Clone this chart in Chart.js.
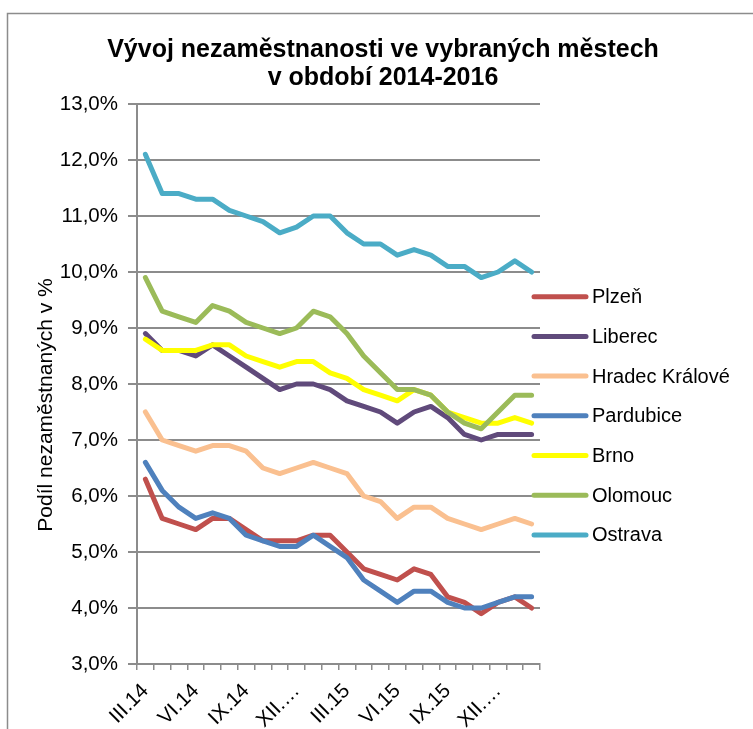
<!DOCTYPE html>
<html>
<head>
<meta charset="utf-8">
<script src="https://cdn.jsdelivr.net/npm/chart.js@4.4.1/dist/chart.umd.min.js"></script>
<style>
    html, body { margin: 0; padding: 0; background: #fff; }
    #wrap { position: relative; width: 753px; height: 729px; }
</style>
</head>
<body>
<div id="wrap"><canvas id="nez_chart" width="753" height="729"></canvas></div>
<script>
var months = ['III.14', 'IV.14', 'V.14', 'VI.14', 'VII.14', 'VIII.14', 'IX.14', 'X.14', 'XI.14', 'XII.14',
    'I.15', 'II.15', 'III.15', 'IV.15', 'V.15', 'VI.15', 'VII.15', 'VIII.15', 'IX.15', 'X.15', 'XI.15', 'XII.15',
    'I.16', 'II.16'];

var plzen     = [6.3, 5.6, 5.5, 5.4, 5.6, 5.6, 5.4, 5.2, 5.2, 5.2, 5.3, 5.3, 5.0, 4.7, 4.6, 4.5, 4.7, 4.6, 4.2, 4.1, 3.9, 4.1, 4.2, 4.0];
var liberec   = [8.9, 8.6, 8.6, 8.5, 8.7, 8.5, 8.3, 8.1, 7.9, 8.0, 8.0, 7.9, 7.7, 7.6, 7.5, 7.3, 7.5, 7.6, 7.4, 7.1, 7.0, 7.1, 7.1, 7.1];
var hradec    = [7.5, 7.0, 6.9, 6.8, 6.9, 6.9, 6.8, 6.5, 6.4, 6.5, 6.6, 6.5, 6.4, 6.0, 5.9, 5.6, 5.8, 5.8, 5.6, 5.5, 5.4, 5.5, 5.6, 5.5];
var pardubice = [6.6, 6.1, 5.8, 5.6, 5.7, 5.6, 5.3, 5.2, 5.1, 5.1, 5.3, 5.1, 4.9, 4.5, 4.3, 4.1, 4.3, 4.3, 4.1, 4.0, 4.0, 4.1, 4.2, 4.2];
var brno      = [8.8, 8.6, 8.6, 8.6, 8.7, 8.7, 8.5, 8.4, 8.3, 8.4, 8.4, 8.2, 8.1, 7.9, 7.8, 7.7, 7.9, 7.8, 7.5, 7.4, 7.3, 7.3, 7.4, 7.3];
var olomouc   = [9.9, 9.3, 9.2, 9.1, 9.4, 9.3, 9.1, 9.0, 8.9, 9.0, 9.3, 9.2, 8.9, 8.5, 8.2, 7.9, 7.9, 7.8, 7.5, 7.3, 7.2, 7.5, 7.8, 7.8];
var ostrava   = [12.1, 11.4, 11.4, 11.3, 11.3, 11.1, 11.0, 10.9, 10.7, 10.8, 11.0, 11.0, 10.7, 10.5, 10.5, 10.3, 10.4, 10.3, 10.1, 10.1, 9.9, 10.0, 10.2, 10.0];

var cities = ['Plzeň', 'Liberec', 'Hradec Králové', 'Pardubice', 'Brno', 'Olomouc', 'Ostrava'];
var series = [plzen, liberec, hradec, pardubice, brno, olomouc, ostrava];
var colors = ['#C0504D', '#604A7B', '#FAC090', '#4F81BD', '#FFFF00', '#9BBB59', '#4BACC6'];

var titleLines = ['Vývoj nezaměstnanosti ve vybraných městech', 'v období 2014-2016'];
var yTitle = 'Podíl nezaměstnaných v %';

var fontFam = '"Liberation Sans", Arial, sans-serif';
var gridGray = '#8c8c8c';

Chart.defaults.font.family = fontFam;
Chart.defaults.color = '#000';

// frame, title, axis title and legend drawn Excel-like
var excelLook = {
    id: 'excelLook',
    beforeDraw: function(chart) {
        var ctx = chart.ctx;
        ctx.save();
        ctx.fillStyle = '#fff';
        ctx.fillRect(0, 0, chart.width, chart.height);
        ctx.strokeStyle = '#8c8c8c';
        ctx.lineWidth = 1.5;
        ctx.strokeRect(7.5, 13.5, 900, 900);
        ctx.restore();
    },
    afterDraw: function(chart) {
        var ctx = chart.ctx;
        ctx.save();
        ctx.fillStyle = '#000';
        ctx.textAlign = 'center';
        ctx.textBaseline = 'alphabetic';
        ctx.font = 'bold 25px ' + fontFam;
        ctx.fillText(titleLines[0], 383, 57);
        ctx.fillText(titleLines[1], 383, 85);

        ctx.font = '21px ' + fontFam;
        ctx.save();
        ctx.translate(46, 405);
        ctx.rotate(-Math.PI / 2);
        ctx.textBaseline = 'middle';
        ctx.fillText(yTitle, 0, 0);
        ctx.restore();

        ctx.font = '20px ' + fontFam;
        ctx.textAlign = 'left';
        ctx.textBaseline = 'middle';
        ctx.lineCap = 'round';
        ctx.lineWidth = 5;
        for (var i = 0; i < cities.length; i++) {
            var ly = 296.7 + i * 39.7;
            ctx.strokeStyle = colors[i];
            ctx.beginPath();
            ctx.moveTo(534, ly);
            ctx.lineTo(586, ly);
            ctx.stroke();
            ctx.fillText(cities[i], 592, ly + 1);
        }
        ctx.restore();
    }
};

new Chart(document.getElementById('nez_chart'), {
    type: 'line',
    data: {
        labels: months,
        datasets: series.map(function(vals, i) {
            return {
                label: cities[i],
                data: vals,
                borderColor: colors[i],
                backgroundColor: colors[i],
                borderWidth: 5,
                borderCapStyle: 'round',
                borderJoinStyle: 'round',
                pointRadius: 0,
                tension: 0,
                order: cities.length - i
            };
        })
    },
    options: {
        responsive: false,
        animation: false,
        layout: {
            padding: { top: 104, right: 213, bottom: 0, left: 0 }
        },
        plugins: {
            legend: { display: false },
            title: { display: false },
            tooltip: { enabled: false }
        },
        scales: {
            x: {
                offset: true,
                grid: {
                    offset: true,
                    drawOnChartArea: false,
                    color: gridGray,
                    lineWidth: 1.5,
                    tickLength: 6
                },
                border: { display: true, color: gridGray, width: 2 },
                ticks: {
                    autoSkip: false,
                    maxRotation: 45,
                    minRotation: 45,
                    padding: 9,
                    font: { size: 20.5 },
                    callback: function(value, index) {
                        if (index % 3 !== 0) return '';
                        var lab = months[index];
                        return lab.indexOf('XII') === 0 ? 'XII.…' : lab;
                    }
                },
                afterFit: function(scale) {
                    scale.height = 65;
                }
            },
            y: {
                min: 3,
                max: 13,
                ticks: {
                    stepSize: 1,
                    padding: 10,
                    font: { size: 20.5 },
                    callback: function(value) {
                        return value.toFixed(1).replace('.', ',') + '%';
                    }
                },
                grid: {
                    color: gridGray,
                    lineWidth: 2,
                    tickLength: 9
                },
                border: { display: true, color: gridGray, width: 2 },
                afterFit: function(scale) {
                    scale.width = 137;
                }
            }
        }
    },
    plugins: [excelLook]
});
</script>
</body>
</html>
